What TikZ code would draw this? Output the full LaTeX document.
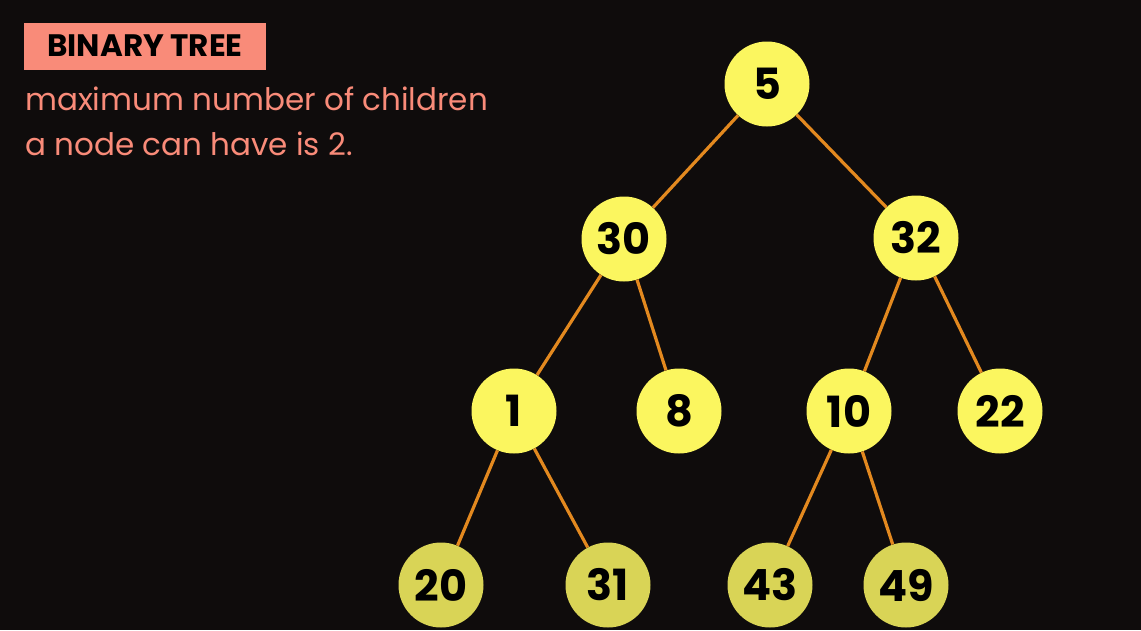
\documentclass[tikz,border=0pt]{standalone}
\usepackage{fontspec}
\setmainfont{Poppins}
\usetikzlibrary{positioning}
\definecolor{bgdark}{HTML}{0F0C0C}
\definecolor{salmon}{HTML}{F98B79}
\definecolor{nodeyellow}{HTML}{FBF65F}
\definecolor{leafyellow}{HTML}{D9D456}
\definecolor{edgeorange}{HTML}{E3891F}
\tikzset{
  line cap=round,
  treenode/.style={circle, fill=nodeyellow, minimum size=85pt, inner sep=0pt,
    font=\fontsize{43}{43}\selectfont\bfseries},
  leafnode/.style={treenode, fill=leafyellow},
  treeedge/.style={draw=edgeorange, line width=3.2pt},
  titlebox/.style={fill=salmon, minimum width=242pt, minimum height=47pt,
    inner sep=0pt, font=\fontsize{31}{31}\selectfont\bfseries},
  subtext/.style={text=salmon, anchor=base west, inner sep=0pt,
    font=\fontsize{31}{31}\selectfont}
}

\begin{document}
\begin{tikzpicture}[x=1pt,y=-1pt]
  \fill[bgdark] (0,0) rectangle (1141,630);
  \useasboundingbox (0,0) rectangle (1141,630);

  % heading
  \node[titlebox] (title) at (145,46) {BINARY TREE};
  \node[subtext] (sub1) at (25,110) {maximum number of children};
  \node[subtext] (sub2) at (25,155) {a node can have is 2.};

  % tree
  \node[treenode] (n5) at (767,84) {5};
  \node[treenode] (n30) at (624,239) {30};
  \node[treenode] (n32) at (916,238) {32};
  \node[treenode] (n1) at (514,411) {1};
  \node[treenode] (n8) at (679,411) {8};
  \node[treenode] (n10) at (849,411) {10};
  \node[treenode] (n22) at (1000,411) {22};
  \node[leafnode] (n20) at (441,585) {20};
  \node[leafnode] (n31) at (608,585) {31};
  \node[leafnode] (n43) at (770,585) {43};
  \node[leafnode] (n49) at (906,585) {49};

  \draw[treeedge] (n5) -- (n30);
  \draw[treeedge] (n5) -- (n32);
  \draw[treeedge] (n30) -- (n1);
  \draw[treeedge] (n30) -- (n8);
  \draw[treeedge] (n32) -- (n10);
  \draw[treeedge] (n32) -- (n22);
  \draw[treeedge] (n1) -- (n20);
  \draw[treeedge] (n1) -- (n31);
  \draw[treeedge] (n10) -- (n43);
  \draw[treeedge] (n10) -- (n49);
\end{tikzpicture}
\end{document}
